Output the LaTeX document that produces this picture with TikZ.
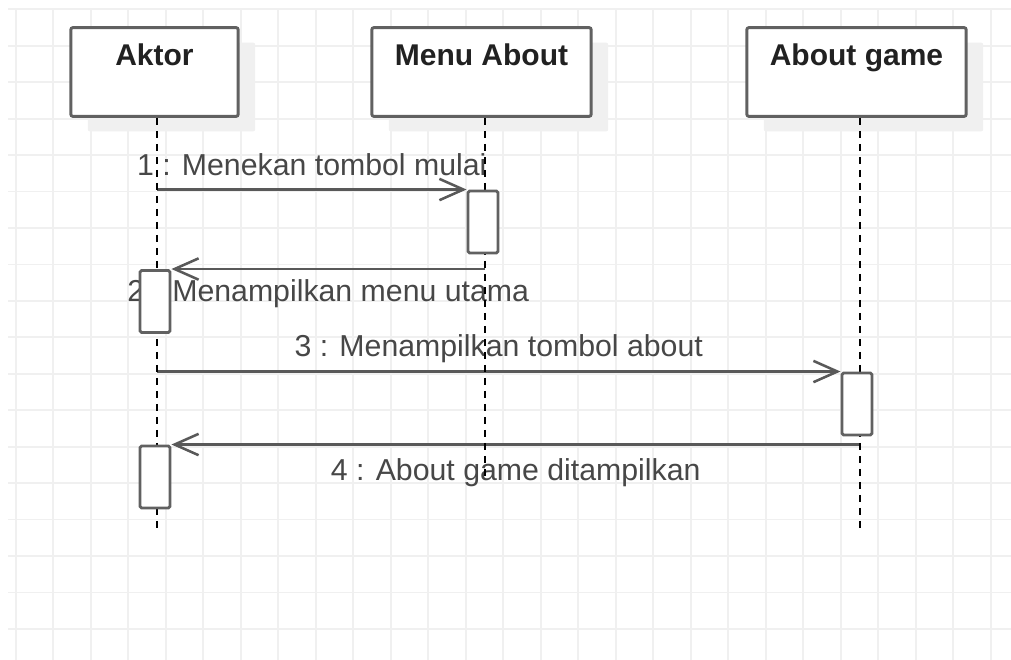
\documentclass[tikz,border=0pt]{standalone}
\usepackage{fontspec}
\setmainfont{Liberation Sans}
\usetikzlibrary{arrows.meta, shadows}

\pgfdeclarelayer{grid}
\pgfdeclarelayer{msgs}
\pgfsetlayers{grid,msgs,main}

\begin{document}
\begin{tikzpicture}[
    x=0.75pt, y=-0.75pt,
    gridline/.style={draw=black!6, line width=1.3pt},
    head/.style={draw=black!62, line width=2.2pt, rounded corners=1.5pt, fill=white,
                 minimum height=66.5pt, inner sep=0pt,
                 drop shadow={shadow xshift=12.75pt, shadow yshift=-11.25pt, fill=black!6, opacity=1}},
    headtxt/.style={font=\fontsize{22.5}{27}\selectfont\bfseries, text=black!87,
                    anchor=base, inner sep=0pt},
    act/.style={draw=black!62, line width=2.2pt, rounded corners=1.2pt, fill=white,
                minimum width=22.5pt, minimum height=46.5pt, inner sep=0pt},
    lifeline/.style={line width=1.5pt, dash pattern=on 5.25pt off 4.5pt},
    msg/.style={-{Straight Barb[length=18pt, width=16pt]}, line width=1.9pt, draw=black!65},
    lbl/.style={font=\fontsize{22.7}{27}\selectfont, text=black!72, midway,
                anchor=base, inner sep=0pt}]

    \useasboundingbox (0,0) rectangle (1011,660);

    % background grid
    \begin{pgfonlayer}{grid}
        \fill[white] (0,0) rectangle (1011,660);
        \foreach \i in {0,...,26}
            \draw[gridline] (15.7+37.5*\i,9) -- (15.7+37.5*\i,660);
        \foreach \j in {0,...,17}
            \draw[gridline] (8,9.3+36.45*\j) -- (1011,9.3+36.45*\j);
    \end{pgfonlayer}

    % lifeline heads
    \node[head, minimum width=125.5pt] (aktor) at (154.5,72) {};
    \node[head, minimum width=164.5pt] (menu)  at (481.5,72) {};
    \node[head, minimum width=164.5pt] (about) at (856.5,72) {};

    \node[headtxt] (aktortxt) at ([yshift=-29.5pt]aktor.north) {Aktor};
    \node[headtxt] (menutxt)  at ([yshift=-29.5pt]menu.north)  {Menu About};
    \node[headtxt] (abouttxt) at ([yshift=-29.5pt]about.north) {About game};

    % lifelines
    \coordinate (aktorend) at (157,533);
    \coordinate (menuend)  at (485,478);
    \coordinate (aboutend) at (860,533);

    \draw[lifeline] (aktor.south -| aktorend) -- (aktorend);
    \draw[lifeline] (menu.south -| menuend)   -- (menuend);
    \draw[lifeline] (about.south -| aboutend) -- (aboutend);

    % activations
    \node[act] (act1) at (483,222)   {};
    \node[act] (act2) at (155,301.5) {};
    \node[act] (act3) at (857,404)   {};
    \node[act] (act4) at (155,477)   {};

    % messages, kept under lifelines and activations
    \begin{pgfonlayer}{msgs}
        \draw[msg] (act1.north west -| aktorend) --
                   node[lbl, yshift=10.5pt]{1 : Menekan tombol mulai} (act1.north west);
        \draw[msg] (act2.north east -| menuend) --
                   node[lbl, yshift=-24pt]{2 : Menampilkan menu utama} (act2.north east);
        \draw[msg] (act3.north west -| aktorend) --
                   node[lbl, yshift=11.25pt]{3 : Menampilkan tombol about} (act3.north west);
        \draw[msg] (act4.north east -| aboutend) --
                   node[lbl, yshift=-27pt]{4 : About game ditampilkan} (act4.north east);
    \end{pgfonlayer}
\end{tikzpicture}
\end{document}
